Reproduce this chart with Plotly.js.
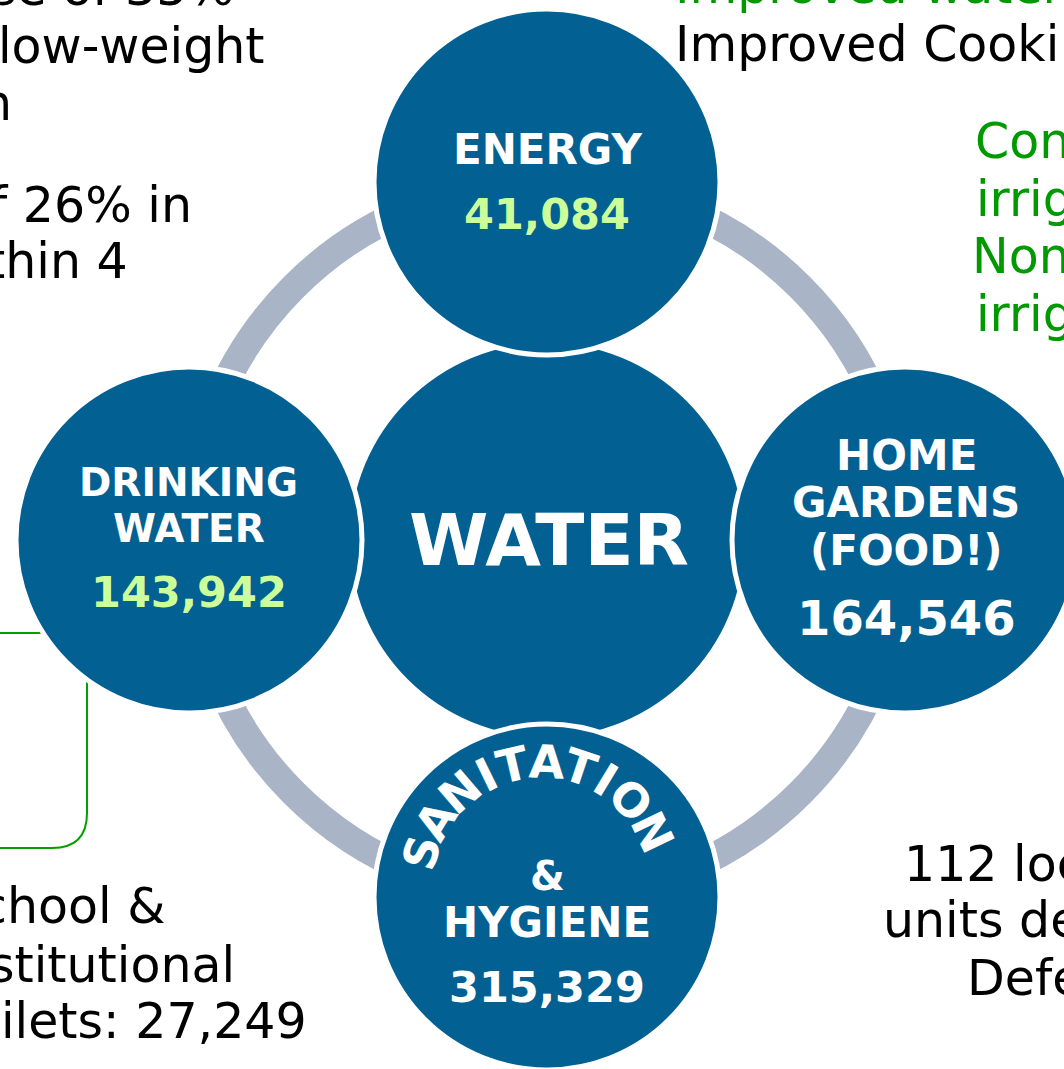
<!DOCTYPE html>
<html>
<head>
<meta charset="utf-8">
<script src="https://cdn.plot.ly/plotly-3.0.1.min.js"></script>
<style>
html,body{margin:0;padding:0;background:#fff;}
#chart{width:1064px;height:1069px;}
</style>
</head>
<body>
<div id="chart"></div>
<script>
// ---- content (values / labels) ----
const hubLabel = "WATER";
const energyLabel = ["ENERGY"];
const energyValue = 41084;
const drinkingLabel = ["DRINKING", "WATER"];
const drinkingValue = 143942;
const gardensLabel = ["HOME", "GARDENS", "(FOOD!)"];
const gardensValue = 164546;
const sanitationArc = "SANITATION";
const sanitationLabel = ["&", "HYGIENE"];
const sanitationValue = 315329;

const topLeftLines = ["se of 35%", "low-weight", "n", "f 26% in", "thin 4"];
const topRightGreen = ["Improved water"];
const topRightBlack = ["Improved Cooki"];
const rightGreenLines = ["Con", "irrig", "Non", "irrig"];
const bottomLeftLines = ["chool &", "stitutional", "ilets: 27,249"];
const bottomRightLines = ["112 loc", "units de", "Defe"];

// ---- styling ----
const W = 1064, H = 1069;
const BLUE = "#026093";
const RING = "#AAB4C7";
const VGREEN = "#CCFF99";
const TGREEN = "#009900";
const FONT = "DejaVu Sans";
const fmt = v => v.toLocaleString("en-US");

const annotations = [];
// place text by its baseline (pixel coords converted to paper coords)
function txt(text, x, baseline, size, color, opts) {
  opts = opts || {};
  annotations.push({
    text: text, x: x / W, y: 1 - (baseline - 0.346 * size) / H, xref: "paper", yref: "paper",
    showarrow: false, xanchor: opts.xanchor || "center", yanchor: "middle",
    textangle: opts.angle || 0,
    font: {family: FONT, size: size, color: color, weight: opts.bold ? "bold" : "normal"}
  });
}

// geometry
const C = {x: 547, y: 540};
const ringR = 358, hubR = 197, satR = 173;
const sats = {
  energy: {x: C.x, y: C.y - ringR},
  drinking: {x: C.x - ringR, y: C.y},
  gardens: {x: C.x + ringR, y: C.y},
  sanitation: {x: C.x, y: C.y + ringR - 1}
};

const shapes = [];
// green rounded box (partly hidden behind the drinking water circle)
shapes.push({type: "path", xref: "x", yref: "y",
  path: "M -60 633 L 52 633 Q 87 633 87 668 L 87 813 Q 87 848 52 848 L -60 848",
  line: {color: "#00A000", width: 2}, fillcolor: "rgba(0,0,0,0)"});
// grey ring
shapes.push({type: "circle", xref: "x", yref: "y",
  x0: C.x - ringR, x1: C.x + ringR, y0: C.y - ringR, y1: C.y + ringR,
  line: {color: RING, width: 28}, fillcolor: "rgba(0,0,0,0)"});
// hub
shapes.push({type: "circle", xref: "x", yref: "y",
  x0: C.x - hubR, x1: C.x + hubR, y0: C.y - hubR, y1: C.y + hubR,
  line: {width: 0}, fillcolor: BLUE});
// satellites
Object.values(sats).forEach(s => {
  shapes.push({type: "circle", xref: "x", yref: "y",
    x0: s.x - satR, x1: s.x + satR, y0: s.y - satR, y1: s.y + satR,
    line: {color: "#FFFFFF", width: 5}, fillcolor: BLUE});
});

// hub text
txt(hubLabel, 549, 565, 72, "#FFFFFF", {bold: true});
// energy
txt(energyLabel[0], 547, 164, 42, "#FFFFFF", {bold: true});
txt(fmt(energyValue), 547, 229, 43, VGREEN, {bold: true});
// drinking water
txt(drinkingLabel[0], 188, 496, 39, "#FFFFFF", {bold: true});
txt(drinkingLabel[1], 189, 542, 39, "#FFFFFF", {bold: true});
txt(fmt(drinkingValue), 189, 607, 43, VGREEN, {bold: true});
// home gardens
txt(gardensLabel[0], 906, 470, 42, "#FFFFFF", {bold: true});
txt(gardensLabel[1], 906, 517, 42, "#FFFFFF", {bold: true});
txt(gardensLabel[2], 906, 565, 42, "#FFFFFF", {bold: true});
txt(fmt(gardensValue), 906, 635, 48, "#FFFFFF", {bold: true});
// sanitation & hygiene
txt(sanitationLabel[0], 547, 890, 40, "#FFFFFF", {bold: true});
txt(sanitationLabel[1], 547, 937, 42, "#FFFFFF", {bold: true});
txt(fmt(sanitationValue), 547, 1002, 43, "#FFFFFF", {bold: true});

// arched SANITATION
(function () {
  const w = {S: .72, A: .774, N: .837, I: .5, T: .682, O: .85};
  const letters = sanitationArc.split("");
  const centers = [];
  let cum = 0;
  letters.forEach(ch => { centers.push(cum + w[ch] / 2); cum += w[ch]; });
  const a0 = -74.5, a1 = 64.5;
  const acx = 541, acy = 886, R = 124;
  letters.forEach((ch, i) => {
    const t = (centers[i] - centers[0]) / (centers[centers.length - 1] - centers[0]);
    const ang = a0 + t * (a1 - a0);
    const rad = ang * Math.PI / 180;
    annotations.push({
      text: ch, x: (acx + R * Math.sin(rad)) / W, y: 1 - (acy - R * Math.cos(rad)) / H,
      xref: "paper", yref: "paper", showarrow: false, xanchor: "center", yanchor: "middle",
      textangle: ang,
      font: {family: FONT, size: 46, color: "#FFFFFF", weight: "bold"}
    });
  });
})();

// side texts
const S = 49;
const tlRight = [236, 267, 14, 194, 130], tlBase = [5, 63, 120, 222, 278];
topLeftLines.forEach((t, i) => txt(t, tlRight[i], tlBase[i], S, "#000000", {xanchor: "right"}));
txt(topRightGreen[0], 673, 3, S, TGREEN, {xanchor: "left"});
txt(topRightBlack[0], 673, 61, S, "#000000", {xanchor: "left"});
const rgBase = [158, 216, 273, 331], rgX = [973, 974, 970, 974];
rightGreenLines.forEach((t, i) => txt(t, rgX[i], rgBase[i], S, TGREEN, {xanchor: "left"}));
const blRight = [167, 237, 309], blBase = [923, 982, 1038];
bottomLeftLines.forEach((t, i) => txt(t, blRight[i], blBase[i], S, "#000000", {xanchor: "right"}));
const brX = [902, 881, 965], brBase = [881, 937, 995];
bottomRightLines.forEach((t, i) => txt(t, brX[i], brBase[i], S, "#000000", {xanchor: "left"}));

const layout = {
  width: W, height: H,
  margin: {l: 0, r: 0, t: 0, b: 0, pad: 0},
  paper_bgcolor: "#FFFFFF", plot_bgcolor: "#FFFFFF",
  showlegend: false,
  xaxis: {range: [0, W], visible: false, fixedrange: true},
  yaxis: {range: [H, 0], visible: false, fixedrange: true},
  shapes: shapes,
  annotations: annotations
};

Plotly.newPlot("chart", [], layout, {displayModeBar: false, staticPlot: true});
</script>
</body>
</html>
